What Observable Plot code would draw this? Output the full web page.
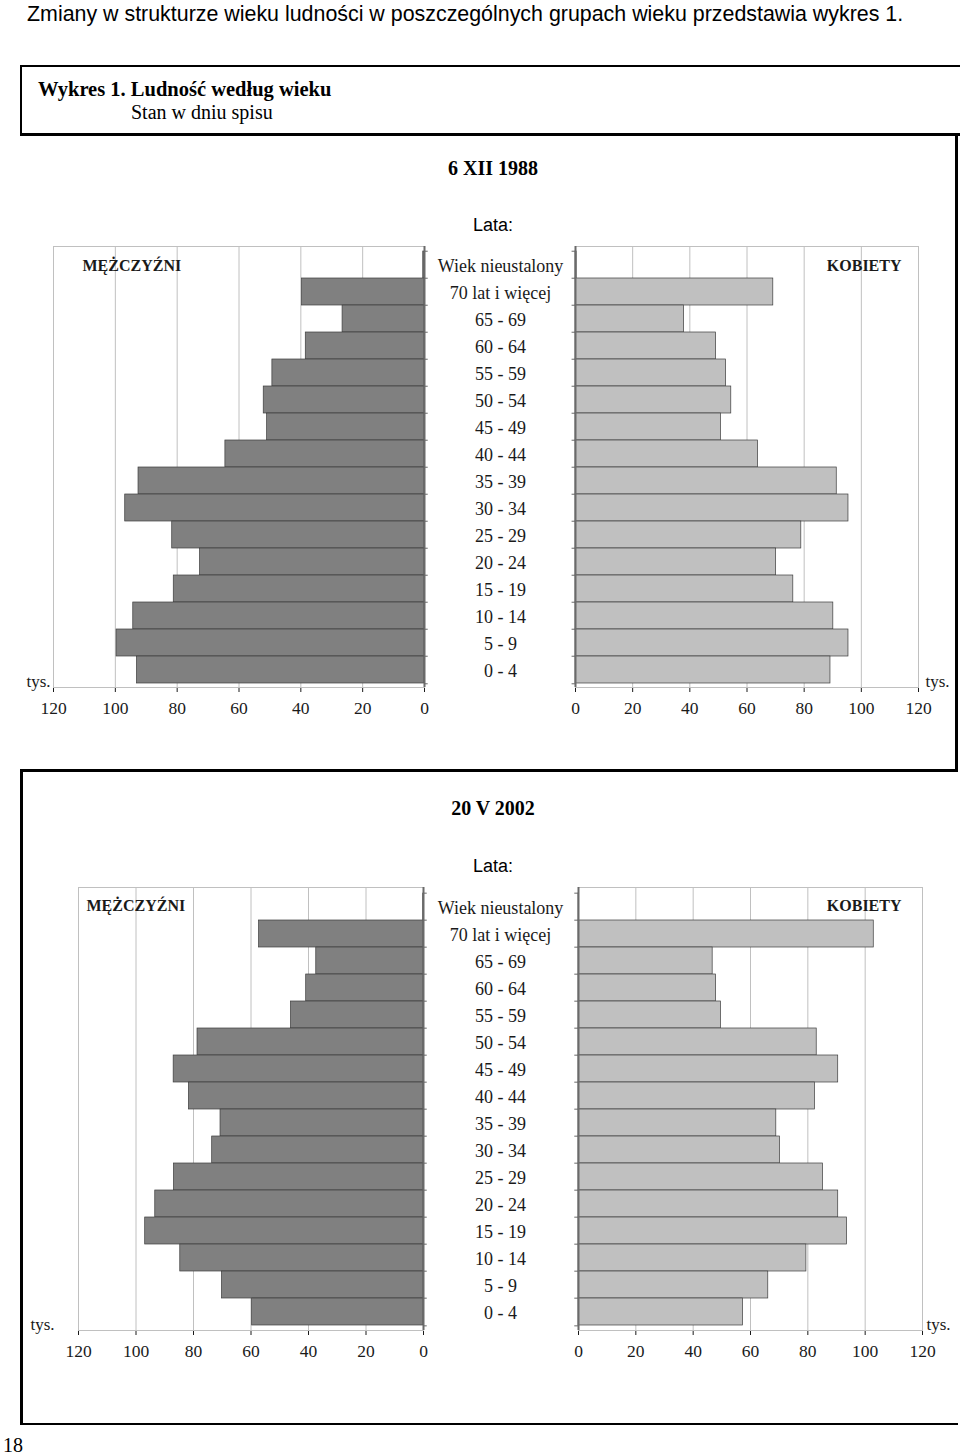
<!DOCTYPE html>
<html>
<head>
<meta charset="utf-8">
<script src="https://cdn.jsdelivr.net/npm/d3@7"></script>
<script src="https://cdn.jsdelivr.net/npm/@observablehq/plot@0.6"></script>
<style>
  html, body { margin: 0; padding: 0; background: #fff; }
  #page { position: relative; width: 960px; height: 1456px; overflow: hidden; background: #fff; color: #000; }
  .abs { position: absolute; }
  .serif { font-family: "Liberation Serif", "Times New Roman", serif; }
  .sans { font-family: "Liberation Sans", Arial, sans-serif; }
  .ctr { text-align: center; width: 200px; }
  .line { position: absolute; background: #000; }
  #page svg text { font-family: "Liberation Serif", "Times New Roman", serif; }
</style>
</head>
<body>
<div id="page">
  <div class="abs sans" style="left:27px;top:2px;font-size:21.4px;line-height:24px;white-space:nowrap;">Zmiany w strukturze wieku ludności w poszczególnych grupach wieku przedstawia wykres 1.</div>

  <div class="abs" style="left:20px;top:65px;width:938px;height:66px;border-left:2px solid #000;border-top:2px solid #000;border-bottom:3px solid #000;"></div>
  <div class="abs serif" style="left:38px;top:78px;font-size:20.5px;line-height:23px;font-weight:bold;white-space:nowrap;">Wykres 1. Ludność według wieku</div>
  <div class="abs serif" style="left:131px;top:101px;font-size:20px;line-height:23px;white-space:nowrap;">Stan w dniu spisu</div>

  <div class="line" style="left:955px;top:134px;width:3px;height:637px;"></div>
  <div class="line" style="left:20px;top:769px;width:938px;height:3px;"></div>
  <div class="line" style="left:20px;top:769px;width:3px;height:656px;"></div>
  <div class="line" style="left:20px;top:1423px;width:938px;height:2px;"></div>

  <div class="abs serif ctr" style="left:393px;top:156px;font-size:20px;line-height:24px;font-weight:bold;">6 XII 1988</div>
  <div class="abs sans ctr" style="left:393px;top:214px;font-size:18px;line-height:22px;">Lata:</div>
  <div class="abs serif ctr" style="left:393px;top:796px;font-size:20px;line-height:24px;font-weight:bold;">20 V 2002</div>
  <div class="abs sans ctr" style="left:393px;top:855px;font-size:18px;line-height:22px;">Lata:</div>
  <div class="abs serif" style="left:3px;top:1433px;font-size:20px;line-height:24px;">18</div>

  <div id="m1988" class="abs" style="left:0px;top:230px;"></div>
  <div id="k1988" class="abs" style="left:430px;top:230px;"></div>
  <div id="m2002" class="abs" style="left:0px;top:870px;"></div>
  <div id="k2002" class="abs" style="left:430px;top:870px;"></div>
</div>
<script>
// ---- data (thousands of persons) ----
const ageGroups = ["Wiek nieustalony", "70 lat i więcej", "65 - 69", "60 - 64", "55 - 59", "50 - 54", "45 - 49", "40 - 44", "35 - 39", "30 - 34", "25 - 29", "20 - 24", "15 - 19", "10 - 14", "5 - 9", "0 - 4"];
const men1988   = [0.4, 39.6, 26.5, 38.4, 49.2, 52.0, 50.9, 64.4, 92.5, 96.8, 81.6, 72.6, 81.1, 94.2, 99.6, 93.0];
const women1988 = [0.4, 69.2, 38.0, 49.2, 52.7, 54.5, 50.9, 63.9, 91.4, 95.5, 79.0, 70.2, 76.2, 90.2, 95.5, 89.2];
const men2002   = [0.1, 57.2, 37.3, 40.8, 46.1, 78.6, 86.9, 81.6, 70.6, 73.5, 86.8, 93.3, 96.8, 84.6, 70.1, 59.6];
const women2002 = [0.1, 103.0, 46.8, 48.0, 49.7, 83.1, 90.6, 82.5, 69.0, 70.3, 85.3, 90.6, 93.7, 79.5, 66.2, 57.4];
const xTicks = [0, 20, 40, 60, 80, 100, 120];
const sexLabels = {M: "MĘŻCZYŹNI", K: "KOBIETY"};
const unitLabel = "tys.";

function side(values, o) {
  const rows = ageGroups.map((age, i) => ({age, value: values[i]}));
  const isMen = o.side === "M";
  const bw = (o.height - o.marginTop - o.marginBottom) / ageGroups.length;
  const marks = [
    Plot.frame({stroke: "#c0c0c0"}),
    Plot.ruleX(xTicks, {stroke: "#c0c0c0"}),
    Plot.barX(rows, {x: "value", y: "age", fill: o.fill, stroke: "#3c3c3c", strokeWidth: 0.7}),
    Plot.ruleX([0], {stroke: "#6a6a6a", strokeWidth: 2}),
    Plot.ruleY(ageGroups, {y: d => d, x1: 0, x2: o.tickLen, dy: -bw / 2, stroke: "#6a6a6a"}),
    Plot.ruleY(ageGroups.slice(-1), {y: d => d, x1: 0, x2: o.tickLen, dy: bw / 2, stroke: "#6a6a6a"}),
    Plot.text([sexLabels[o.side]], {
      frameAnchor: isMen ? "top-left" : "top-right", textAnchor: isMen ? "start" : "end",
      lineAnchor: "middle", dx: o.sexDx, dy: o.sexDy, fontWeight: "bold", fontSize: 16
    }),
    Plot.text([unitLabel], {
      frameAnchor: isMen ? "bottom-left" : "bottom-right", textAnchor: isMen ? "end" : "start",
      dx: o.unitDx, dy: -1, fontSize: 17
    })
  ];
  if (!isMen) {
    marks.push(Plot.text(ageGroups, {y: d => d, text: d => d, frameAnchor: "left", textAnchor: "middle", dx: o.labelDx, dy: 1, fontSize: 18}));
  }
  const svg = Plot.plot({
    width: o.width, height: o.height,
    marginLeft: o.marginLeft, marginRight: o.marginRight,
    marginTop: o.marginTop, marginBottom: o.marginBottom,
    style: {fontFamily: "'Liberation Serif', 'Times New Roman', serif", fontSize: "17.5px", color: "#1a1a1a", background: "transparent", overflow: "visible"},
    x: {domain: [0, 120], reverse: isMen, ticks: xTicks, tickSize: 5, tickPadding: 9, line: true, label: null, tickFormat: d => String(d)},
    y: {domain: ageGroups, padding: 0, axis: null},
    marks
  });
  d3.select(svg).selectAll("text").attr("font-family", "'Liberation Serif', 'Times New Roman', serif").style("font-variant", "normal");
  return svg;
}

document.getElementById("m1988").append(side(men1988, {
  side: "M", fill: "#808080", width: 480, height: 497, marginTop: 16, marginBottom: 40,
  marginLeft: 53, marginRight: 56, tickLen: -1.2, sexDx: 29, sexDy: 19, unitDx: -3
}));
document.getElementById("k1988").append(side(women1988, {
  side: "K", fill: "#c0c0c0", width: 530, height: 497, marginTop: 16, marginBottom: 40,
  marginLeft: 145, marginRight: 42, tickLen: -1.2, sexDx: -17, sexDy: 19, unitDx: 7, labelDx: -75
}));
document.getElementById("m2002").append(side(men2002, {
  side: "M", fill: "#808080", width: 480, height: 500, marginTop: 17, marginBottom: 40,
  marginLeft: 78, marginRight: 57, tickLen: -1.3, sexDx: 8, sexDy: 18, unitDx: -24
}));
document.getElementById("k2002").append(side(women2002, {
  side: "K", fill: "#c0c0c0", width: 530, height: 500, marginTop: 17, marginBottom: 40,
  marginLeft: 148, marginRight: 38, tickLen: -1.3, sexDx: -21, sexDy: 18, unitDx: 4, labelDx: -78
}));
</script>
</body>
</html>
